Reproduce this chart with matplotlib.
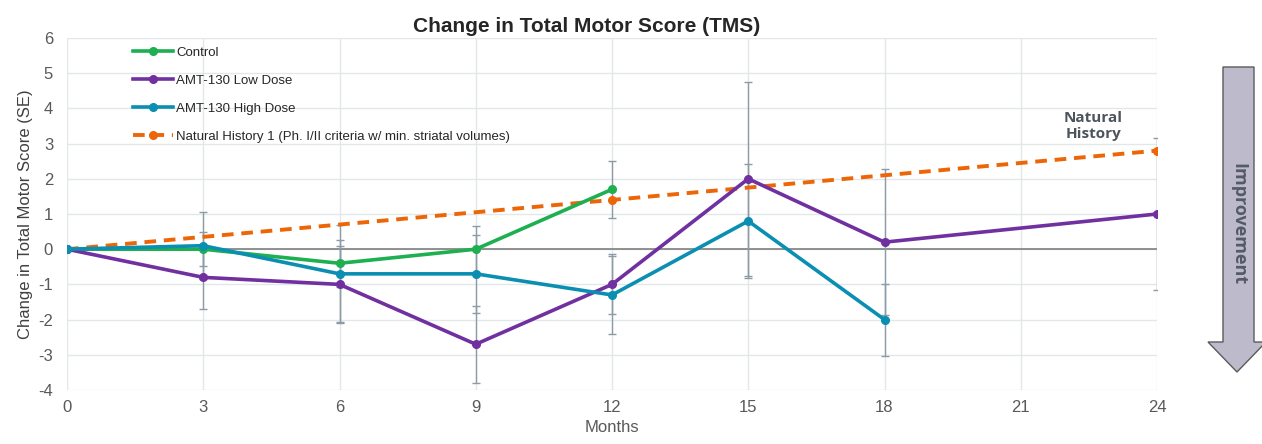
import numpy as np
import matplotlib
matplotlib.use('Agg')
import matplotlib.pyplot as plt
import matplotlib.patches as mpatches

plt.rcParams['font.family'] = ['Liberation Sans', 'DejaVu Sans']
plt.rcParams['axes.unicode_minus'] = False

# data
ctrl_x = [0, 3, 6, 9, 12]
ctrl_y = [0, 0, -0.4, 0, 1.7]
ctrl_err = [0, 0.48, 0.67, 0.65, 0.8]

low_x = [0, 3, 6, 9, 12, 15, 18, 24]
low_y = [0, -0.8, -1.0, -2.7, -1.0, 2.0, 0.2, 1.0]
low_err = [0, 0.9, 1.1, 1.1, 0.85, 2.75, 2.07, 2.17]

high_x = [0, 3, 6, 9, 12, 15, 18]
high_y = [0, 0.1, -0.7, -0.7, -1.3, 0.8, -2.0]
high_err = [0, 0.96, 1.38, 1.1, 1.1, 1.62, 1.02]

nh_x = [0, 12, 24]
nh_y = [0, 1.4, 2.8]

xticks = [0, 3, 6, 9, 12, 15, 18, 21, 24]
yticks = list(range(-4, 7))

W, H = 1262, 444
fig = plt.figure(figsize=(W / 100, H / 100), dpi=100)
ax = fig.add_axes([67 / W, 1 - 390 / H, 1090 / W, 352 / H])

grey = '#8C9BA5'
for x, y, e in [(ctrl_x, ctrl_y, ctrl_err), (low_x, low_y, low_err), (high_x, high_y, high_err)]:
    ax.errorbar(x, y, yerr=e, fmt='none', ecolor=grey, elinewidth=1, capsize=3, capthick=1, zorder=2)

ax.axhline(0, color='#7F7F7F', lw=1.2, zorder=1.5)

ax.plot(ctrl_x, ctrl_y, color='#1DAF50', lw=2.6, marker='o', ms=5.5, label='Control', zorder=4)
ax.plot(low_x, low_y, color='#7030A0', lw=2.6, marker='o', ms=5.5, label='AMT-130 Low Dose', zorder=4)
ax.plot(high_x, high_y, color='#0A8FB2', lw=2.6, marker='o', ms=5.5, label='AMT-130 High Dose', zorder=4)
ax.plot(nh_x, nh_y, color='#EC6608', lw=2.8, ls=(0, (3, 2)), marker='o', ms=5.5,
        label='Natural History 1 (Ph. I/II criteria w/ min. striatal volumes)', zorder=3)

ax.set_xlim(0, 24)
ax.set_ylim(-4, 6)
ax.set_xticks(xticks)
ax.set_yticks(yticks)
ax.grid(True, color='#E3E7EA', lw=1)
ax.set_axisbelow(True)
for s in ax.spines.values():
    s.set_visible(False)
ax.tick_params(length=0, labelsize=12, labelcolor='#595959')
ax.tick_params(axis='y', pad=10)
ax.tick_params(axis='x', pad=7)
ax.set_xlabel('Months', fontsize=12, color='#595959', labelpad=4)
ax.set_ylabel('Change in Total Motor Score (SE)', fontsize=12, color='#404040', labelpad=4)

leg = ax.legend(loc='upper left', bbox_to_anchor=(0.05, 1.01), frameon=False, fontsize=9.5,
                handlelength=3.0, handletextpad=0.25, labelspacing=1.2)
for t in leg.get_texts():
    t.set_color('#262626')

fig.text(587 / W, 1 - 27 / H, 'Change in Total Motor Score (TMS)', ha='center', va='center',
         fontsize=15, fontweight='bold', color='#262626')

ax.text(22.6, 3.5, 'Natural\nHistory', ha='center', va='center', fontsize=11,
        fontweight='bold', color='#4D545C', linespacing=1.25, family='Open Sans')

# improvement arrow (figure pixel coords)
pts = [(1223, 67), (1254, 67), (1254, 342), (1266, 342), (1237, 372), (1208, 342), (1223, 342)]
poly = mpatches.Polygon([(x / W, 1 - y / H) for x, y in pts], closed=True,
                        transform=fig.transFigure, facecolor='#BDBACC', edgecolor='#5A5A5A',
                        lw=1, clip_on=False)
fig.patches.append(poly)
fig.text(1238 / W, 1 - 224 / H, 'Improvement', rotation=270, ha='center', va='center',
         fontsize=13, fontweight='bold', color='#555B66', family='Open Sans')

fig.savefig('out.png', dpi=100)
